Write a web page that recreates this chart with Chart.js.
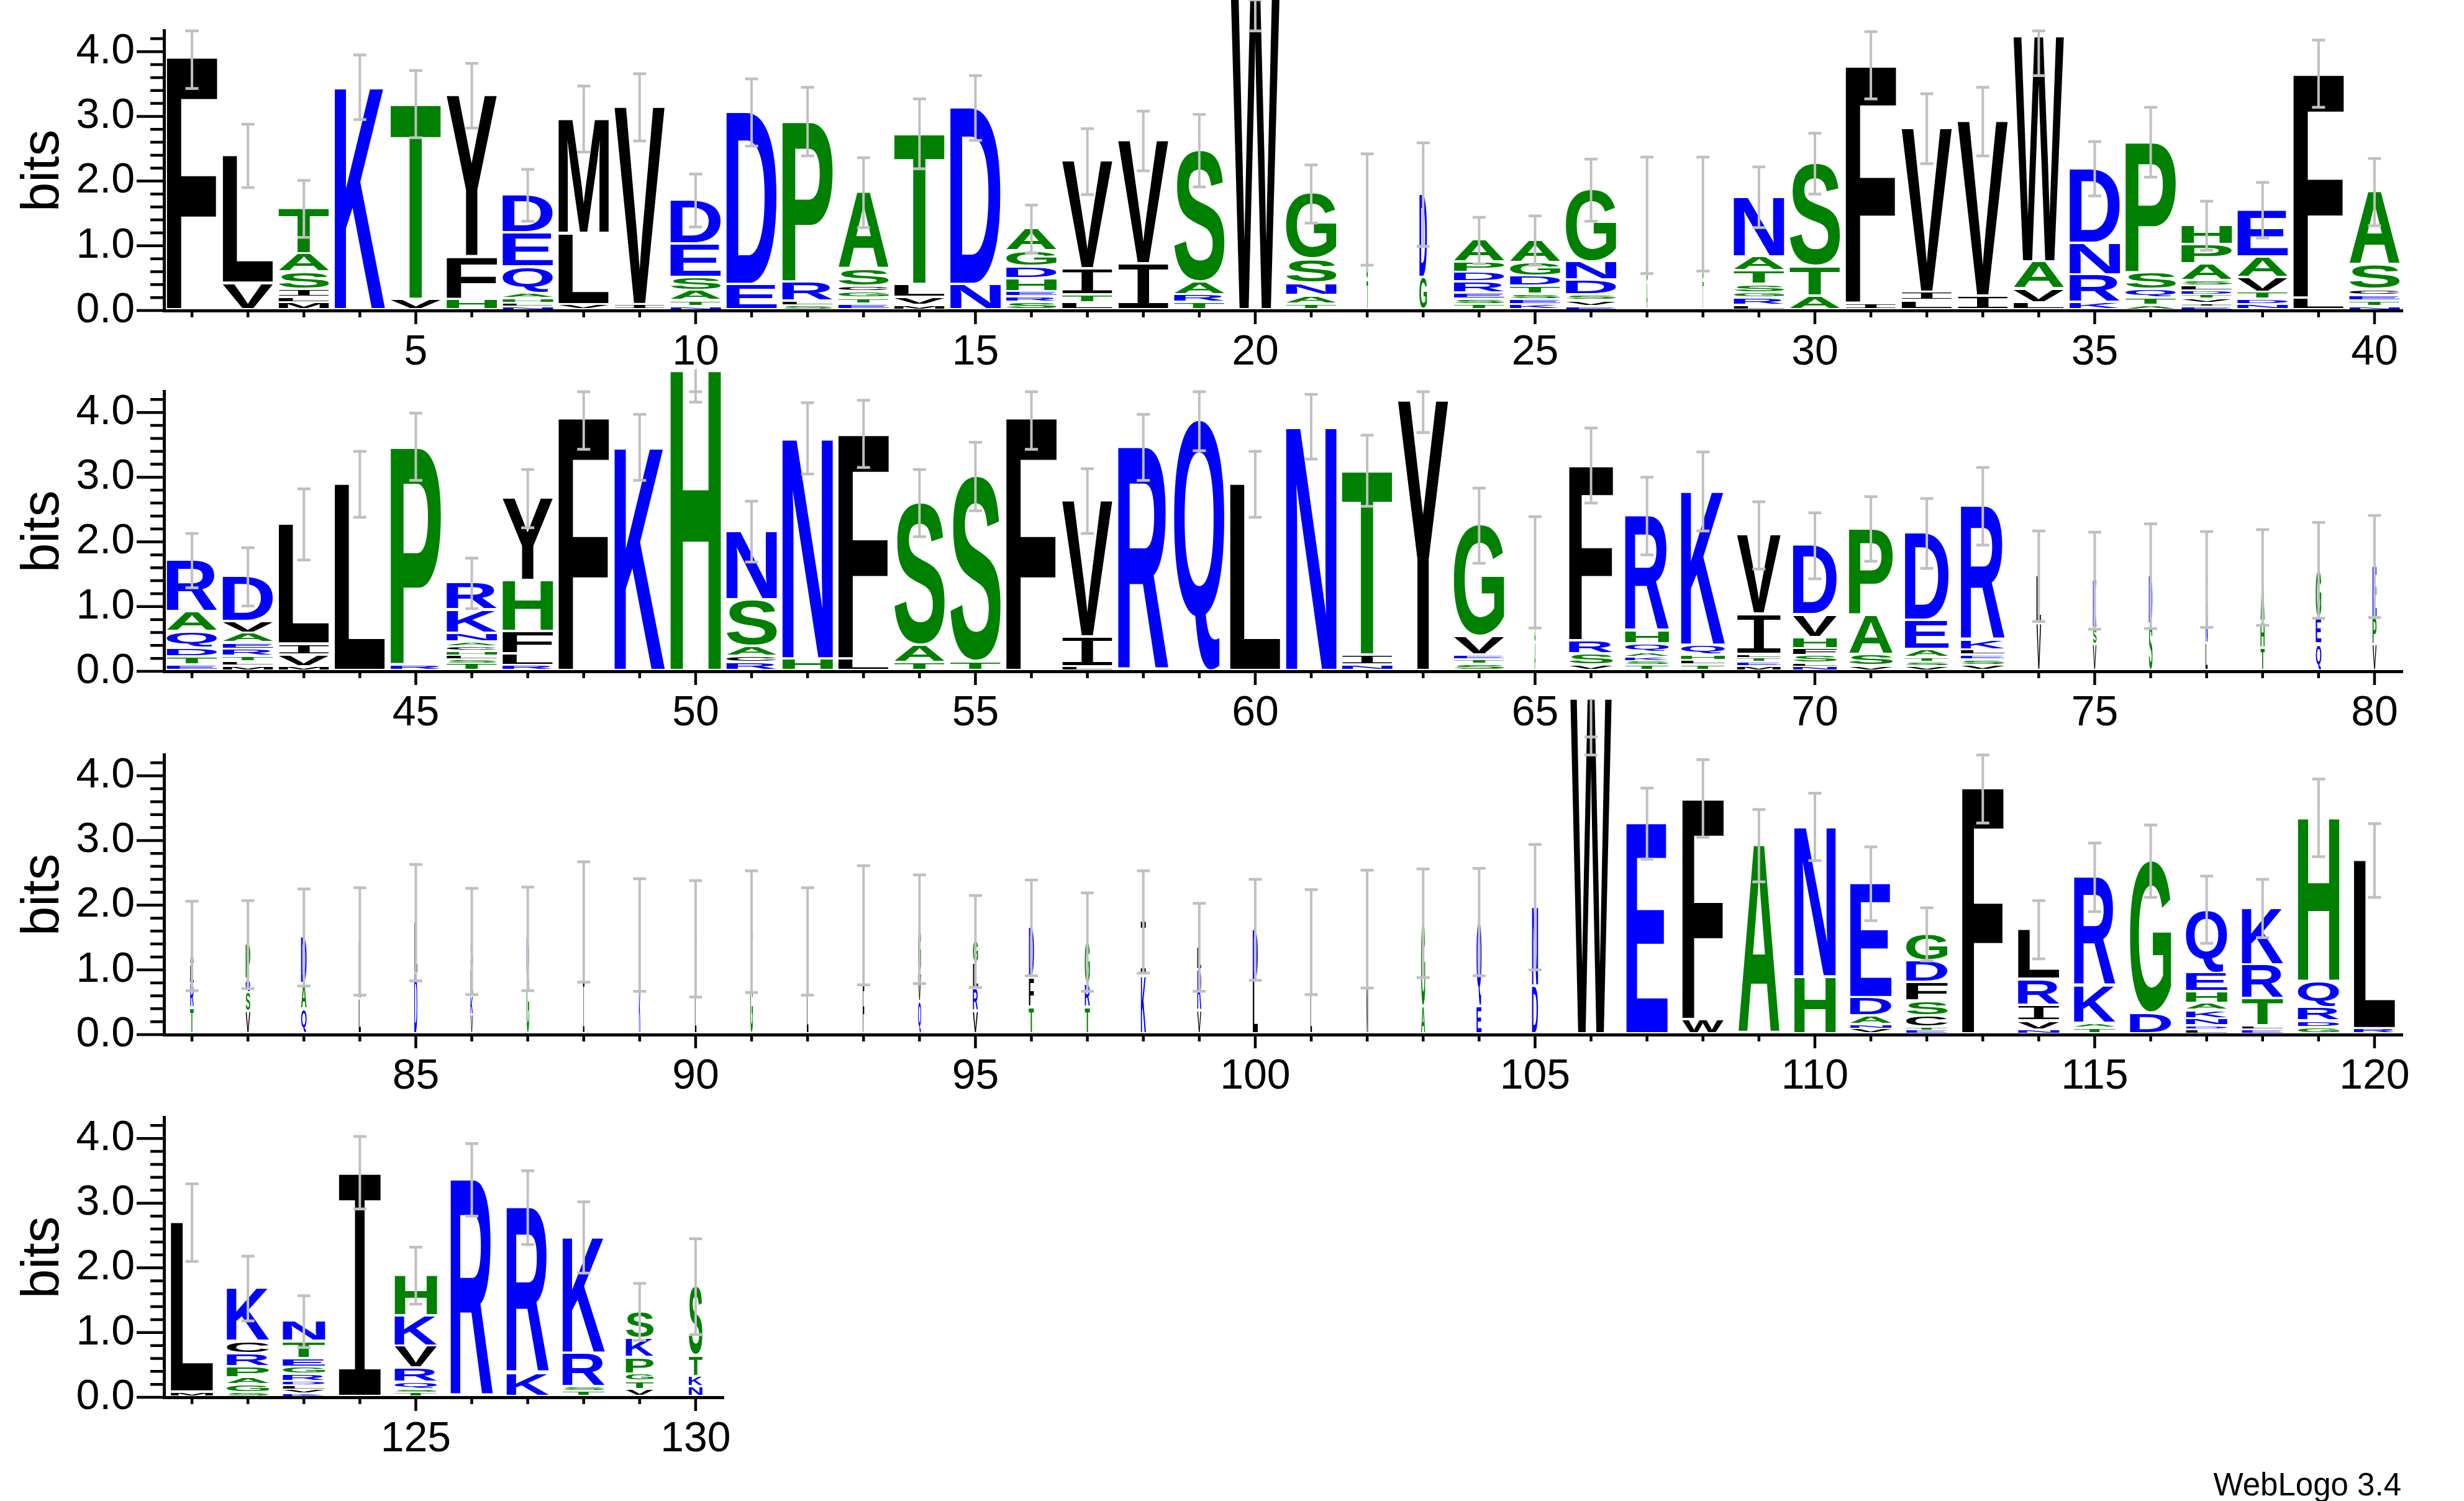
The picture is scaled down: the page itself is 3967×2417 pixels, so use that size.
<!DOCTYPE html>
<html>
<head>
<meta charset="utf-8">
<script src="https://cdn.jsdelivr.net/npm/chart.js@4.4.1/dist/chart.umd.min.js"></script>
<style>
  html, body { margin: 0; padding: 0; background: #fff; }
  #page { position: relative; width: 3967px; height: 2417px; overflow: hidden; background: #fff; }
  #page canvas { position: absolute; left: 0; }
  #credit { position: absolute; right: 101px; top: 2365px; font: 51px/51px "Liberation Sans", Arial, sans-serif; color: #000; white-space: nowrap; }
</style>
</head>
<body>
<div id="page">
  <canvas id="row1"></canvas>
  <canvas id="row2"></canvas>
  <canvas id="row3"></canvas>
  <canvas id="row4"></canvas>
  <div id="credit">WebLogo 3.4</div>
</div>
<script>
// one string per position, letters listed top -> bottom, letter + height in bits
const stacks = [
  "F3.93", "L1.98 V0.41", "T0.71 A0.28 S0.27 I0.12 L0.08 M0.11", "K3.45", "T3.03 V0.16",
  "Y2.5 F0.66 H0.16", "D0.59 E0.53 Q0.4 A0.09 H0.07 L0.05 N0.05", "M1.78 L1.1 V0.08", "V3.06 I0.08", "D0.68 E0.52 S0.2 A0.16 T0.09 N0.05",
  "D2.67 E0.39", "P2.49 R0.3 L0.06 S0.07", "A1.19 S0.27 C0.08 G0.1 T0.09 E0.09", "T2.34 L0.2 V0.12 M0.07", "D2.74 N0.39",
  "A0.35 G0.24 D0.19 H0.2 E0.08 R0.09 S0.11", "V1.67 I0.4 T0.12 L0.11", "V1.91 I0.71", "S2.04 A0.2 R0.12 T0.11", "W5.3",
  "G1.02 S0.37 N0.19 A0.13 T0.09", "S0.6 G0.5 T0.46", "D1.29 G0.5", "A0.34 P0.16 D0.15 R0.17 E0.1 S0.08 T0.08", "A0.35 G0.21 D0.16 T0.12 S0.08 E0.08 K0.08",
  "G1.12 N0.28 D0.23 S0.09 V0.09 E0.05", "G0.55 S0.5 A0.42", "S0.55 G0.5 T0.44", "N0.93 A0.22 T0.21 S0.13 G0.08 R0.11 L0.07", "S1.6 T0.46 A0.21",
  "F3.69 I0.1", "V2.54 I0.13 L0.14", "V2.71 I0.21", "W3.49 A0.42 V0.21 L0.11", "D1.16 N0.49 R0.43 K0.11",
  "P2.03 S0.26 Q0.13 T0.11 A0.07", "H0.3 P0.3 A0.26 S0.08 L0.08 D0.06 T0.06 V0.07 I0.05 E0.05", "E0.73 A0.32 V0.23 T0.11 D0.08 N0.08", "F3.48 L0.18", "A1.14 S0.38 C0.09 E0.09 T0.08 N0.05",
  "R0.8 A0.31 Q0.25 D0.14 T0.12 E0.09", "D0.7 V0.18 A0.15 E0.1 R0.11 T0.08 L0.07 M0.07", "L1.86 I0.17 V0.18 M0.06", "L2.89", "P3.38 R0.09",
  "R0.42 K0.36 N0.14 A0.07 C0.07 H0.07 L0.06 S0.06 T0.11", "Y1.28 H0.79 F0.34 L0.18 R0.08", "F3.93", "K3.46", "H4.67",
  "N1.07 S0.72 A0.15 C0.1 R0.12", "N3.42 H0.18", "F3.49 L0.18", "S2.21 A0.27 T0.12", "S2.87 T0.14",
  "F3.93", "V2.11 I0.46 L0.06", "R3.46", "Q3.9", "L2.89",
  "N3.78", "T2.86 I0.15 N0.09", "Y4.18", "G1.73 V0.28 E0.07 T0.07 S0.1", "G0.6 S0.5 A0.43",
  "F2.72 R0.2 S0.18 V0.08", "R1.79 H0.2 Q0.13 A0.07 K0.06 S0.07 T0.08", "K2.39 Q0.15 H0.08 L0.07 T0.09", "V1.23 I0.62 L0.05 T0.07 E0.06 M0.07", "D1.08 V0.35 H0.17 F0.11 S0.12 L0.05 N0.06",
  "P1.34 A0.61 S0.18 V0.07", "D1.35 E0.45 A0.13 T0.07 S0.06 V0.07", "R2.08 K0.15 L0.08 E0.07 S0.09 V0.08", "L0.75 V0.72", "K0.75 S0.25 V0.4",
  "D0.75 S0.72", "I0.5 N0.5 L0.42", "A0.7 H0.4 T0.35", "G0.75 E0.4 Q0.41", "E0.8 P0.42 V0.4",
  "A0.3 L0.3 R0.37 T0.4", "P0.55 Q0.2 S0.3 V0.34", "D0.72 A0.4 Q0.38", "N0.9 L0.54", "L0.8 D0.93",
  "S0.45 L0.4 K0.3 V0.29", "D0.55 G0.93", "L0.9 I0.84", "E0.8 K0.74", "V0.8 L0.68",
  "T0.8 G0.79", "E0.65 L0.79", "L0.9 F0.79", "G0.7 V0.43 Q0.5", "G0.35 L0.4 R0.34 V0.35",
  "D0.78 F0.46 T0.41", "G0.66 R0.36 T0.41", "I0.85 K0.89", "L0.36 R0.63 V0.36", "D0.8 L0.82",
  "S0.82 L0.61", "L0.9 M0.73", "G1.3 A0.42", "Q1.32 E0.42", "N1.23 D0.74",
  "W5.19", "E3.26", "F3.43 W0.22", "A2.92", "N2.33 H0.88",
  "E1.77 D0.28 A0.14 N0.06 V0.08", "G0.42 D0.33 F0.29 S0.23 C0.18 T0.04 E0.06", "F3.83", "L0.78 R0.4 I0.24 V0.14 N0.06", "R1.69 K0.58 A0.07 T0.09",
  "G2.36 D0.32", "Q0.99 E0.29 H0.18 A0.11 K0.13 N0.11 D0.05 L0.07", "K0.88 R0.53 T0.42 L0.05 E0.07", "H2.54 Q0.4 R0.21 D0.1 G0.1", "L2.61 R0.08",
  "L2.63 M0.07", "K0.83 C0.19 R0.2 P0.17 A0.11 G0.12 S0.06", "N0.32 T0.26 E0.14 G0.11 R0.11 D0.06 L0.06 V0.06 K0.05", "I3.47", "H0.63 K0.47 V0.34 R0.22 Q0.11 S0.05 T0.06",
  "R3.36", "R2.57 K0.36", "K1.8 R0.52 S0.07 T0.08", "S0.42 K0.3 P0.25 G0.11 T0.13 V0.11", "S1.08 T0.32 K0.16 N0.15"
];

// half-width of the error interval (bits)
const errorBars = [
  0.5, 0.49, 0.44, 0.5, 0.52, 0.5, 0.4, 0.51, 0.52, 0.41,
  0.52, 0.53, 0.54, 0.54, 0.5, 0.37, 0.51, 0.46, 0.56, 0.5,
  0.45, 0.86, 0.8, 0.36, 0.38, 0.48, 0.9, 0.88, 0.47, 0.47,
  0.52, 0.54, 0.53, 0.6, 0.42, 0.54, 0.38, 0.43, 0.52, 0.52,
  0.42, 0.45, 0.55, 0.51, 0.52, 0.39, 0.45, 0.5, 0.51, 0.51,
  0.47, 0.55, 0.52, 0.52, 0.53, 0.5, 0.5, 0.51, 0.49, 0.51,
  0.5, 0.55, 0.49, 0.58, 0.86, 0.58, 0.6, 0.61, 0.52, 0.51,
  0.5, 0.54, 0.6, 0.7, 0.75, 0.81, 0.74, 0.74, 0.74, 0.79,
  0.69, 0.68, 0.75, 0.83, 0.9, 0.82, 0.8, 0.93, 0.87, 0.9,
  0.94, 0.83, 0.92, 0.84, 0.71, 0.74, 0.76, 0.79, 0.68, 0.78,
  0.81, 0.91, 0.84, 0.83, 0.97, 0.59, 0.55, 0.6, 0.56, 0.52,
  0.57, 0.41, 0.56, 0.45, 0.53, 0.56, 0.52, 0.45, 0.6, 0.57,
  0.6, 0.5, 0.4, 0.56, 0.44, 0.56, 0.57, 0.55, 0.44, 0.74
];

// fraction of non-gap sequences -> relative stack width
const stackWidths = [
  1, 1, 1, 1, 1, 1, 1, 1, 1, 1,
  1, 1, 1, 1, 1, 1, 1, 1, 1, 1,
  1, 0.03, 0.15, 1, 1, 1, 0.02, 0.02, 1, 1,
  1, 1, 1, 1, 1, 1, 1, 1, 1, 1,
  1, 1, 1, 1, 1, 1, 1, 1, 1, 1,
  1, 1, 1, 1, 1, 1, 1, 1, 1, 1,
  1, 1, 1, 1, 0.02, 0.87, 0.87, 0.87, 0.87, 0.87,
  0.87, 0.87, 0.87, 0.09, 0.07, 0.07, 0.04, 0.08, 0.11, 0.08,
  0.07, 0.09, 0.11, 0.04, 0.06, 0.05, 0.05, 0.03, 0.03, 0.03,
  0.05, 0.03, 0.03, 0.06, 0.1, 0.1, 0.1, 0.1, 0.08, 0.1,
  0.03, 0.03, 0.08, 0.1, 0.12, 0.82, 0.82, 0.82, 0.82, 0.82,
  0.82, 0.82, 0.82, 0.82, 0.82, 0.82, 0.82, 0.82, 0.82, 0.82,
  0.84, 0.84, 0.84, 0.84, 0.84, 0.84, 0.84, 0.84, 0.55, 0.27
];

const rowFirst = [1, 41, 81, 121];
const rowLast = [40, 80, 120, 130];
const xTickLabels = [5, 10, 15, 20, 25, 30, 35, 40, 45, 50, 55, 60, 65, 70, 75, 80, 85, 90, 95, 100, 105, 110, 115, 120, 125, 130];
const yTickLabels = ['0.0', '1.0', '2.0', '3.0', '4.0'];
const yMax = 4.32;
const yMinorStep = 0.2;

// hydrophobicity colour scheme
const hydrophilic = 'RKDENQ', neutral = 'SGHTAP', hydrophobic = 'YVMCLFIW';
function colourOf(aa) {
  if (hydrophilic.includes(aa)) return '#0000ff';
  if (neutral.includes(aa)) return '#008000';
  return '#000000';
}

const columns = stacks.map(s => s.split(' ').map(t => ({ aa: t[0], bits: parseFloat(t.slice(1)) })));
const totals = columns.map(c => c.reduce((a, l) => a + l.bits, 0));

// page geometry
const zeroY = [500, 1081, 1666, 2250];
const PX_PER_BIT = 104.2;
const COL_W = 90.1;
const AXIS_LEFT = 264;
const TOP_ROOM = 560;
const BOTTOM_ROOM = 100;
const PAGE_W = 3967;

Chart.defaults.font.family = '"Liberation Sans", Arial, sans-serif';
Chart.defaults.color = '#000';

const glyphCache = {};
function glyphMetrics(ctx, aa) {
  if (glyphCache[aa]) return glyphCache[aa];
  // the serif I of the original logo font: a mono face gives the bar-and-caps shape
  const font = aa === 'I' ? '200px "Liberation Mono"' : 'bold 200px "Liberation Sans"';
  ctx.save();
  ctx.font = font;
  const m = ctx.measureText(aa);
  ctx.restore();
  glyphCache[aa] = {
    font,
    left: m.actualBoundingBoxLeft,
    w: m.actualBoundingBoxLeft + m.actualBoundingBoxRight,
    asc: m.actualBoundingBoxAscent,
    h: m.actualBoundingBoxAscent + m.actualBoundingBoxDescent
  };
  return glyphCache[aa];
}

function drawGlyph(ctx, aa, x0, x1, yTop, yBot) {
  const g = glyphMetrics(ctx, aa);
  if (yBot - yTop <= 0 || x1 - x0 <= 0) return;
  ctx.save();
  ctx.translate(x0, yTop);
  ctx.scale((x1 - x0) / g.w, (yBot - yTop) / g.h);
  ctx.font = g.font;
  ctx.textAlign = 'left';
  ctx.textBaseline = 'alphabetic';
  ctx.fillStyle = colourOf(aa);
  ctx.fillText(aa, g.left, g.asc);
  ctx.restore();
}

const logoPlugin = {
  id: 'logo',
  afterDatasetsDraw(chart, args, opts) {
    const { ctx } = chart;
    const x = chart.scales.x, y = chart.scales.y;
    for (let p = opts.first; p <= opts.last; p++) {
      const col = columns[p - 1];
      const cx = x.getPixelForValue(p);
      const w = (x.getPixelForValue(p + 0.5) - x.getPixelForValue(p - 0.5)) * 0.9 * stackWidths[p - 1];
      let base = 0;
      for (let i = col.length - 1; i >= 0; i--) {
        const yb = y.getPixelForValue(base);
        const yt = y.getPixelForValue(base + col[i].bits);
        const gap = Math.min(4, (yb - yt) * 0.45);
        drawGlyph(ctx, col[i].aa, cx - w / 2, cx + w / 2, yt, yb - gap);
        base += col[i].bits;
      }
      // error bar
      const tot = totals[p - 1], e = errorBars[p - 1];
      const low = tot - e, high = Math.min(tot + e, yMax);
      const yLo = y.getPixelForValue(Math.min(low, high));
      const yHi = y.getPixelForValue(Math.max(tot, high));
      ctx.save();
      ctx.strokeStyle = '#c0c0c0';
      ctx.lineWidth = 4;
      ctx.beginPath();
      ctx.moveTo(cx, yLo); ctx.lineTo(cx, yHi);
      ctx.stroke();
      ctx.lineWidth = 4.5;
      ctx.beginPath();
      [low, high].forEach(v => {
        const py = y.getPixelForValue(v);
        ctx.moveTo(cx - 10.5, py); ctx.lineTo(cx + 10.5, py);
      });
      ctx.stroke();
      ctx.restore();
    }
  },
  afterDraw(chart) {
    const { ctx } = chart;
    const x = chart.scales.x, y = chart.scales.y;
    const left = chart.chartArea.left, bottom = chart.chartArea.bottom;
    ctx.save();
    ctx.strokeStyle = '#000';
    ctx.lineWidth = 4.5;
    ctx.beginPath();
    y.ticks.forEach(t => {
      const py = y.getPixelForValue(t.value);
      const major = Math.abs(t.value - Math.round(t.value)) < 1e-6;
      ctx.moveTo(left - (major ? 44 : 22), py); ctx.lineTo(left, py);
    });
    x.ticks.forEach(t => {
      const px = x.getPixelForValue(t.value);
      const major = xTickLabels.includes(t.value);
      ctx.moveTo(px, bottom); ctx.lineTo(px, bottom + (major ? 22 : 11));
    });
    ctx.stroke();
    ctx.restore();
  }
};

function makeRow(r) {
  const canvas = document.getElementById('row' + (r + 1));
  const first = rowFirst[r], last = rowLast[r];
  const n = last - first + 1;
  canvas.width = PAGE_W;
  canvas.height = TOP_ROOM + BOTTOM_ROOM;
  canvas.style.top = (zeroY[r] - TOP_ROOM) + 'px';

  const pts = [];
  for (let p = first; p <= last; p++) pts.push({ x: p, y: totals[p - 1] });

  return new Chart(canvas.getContext('2d'), {
    type: 'scatter',
    data: { datasets: [{ data: pts, pointRadius: 0, showLine: false }] },
    options: {
      responsive: false,
      animation: false,
      devicePixelRatio: 1,
      events: [],
      layout: {
        padding: {
          top: TOP_ROOM - yMax * PX_PER_BIT,
          left: 0,
          right: PAGE_W - (AXIS_LEFT + n * COL_W),
          bottom: 0
        }
      },
      plugins: {
        legend: { display: false },
        tooltip: { enabled: false },
        logo: { first, last }
      },
      scales: {
        x: {
          type: 'linear',
          min: first - 0.5,
          max: last + 0.5,
          z: 1,
          afterFit: s => { s.height = BOTTOM_ROOM; },
          afterBuildTicks: s => {
            const t = [];
            for (let p = first; p <= last; p++) t.push({ value: p });
            s.ticks = t;
          },
          grid: { display: false, drawTicks: false },
          border: { display: true, color: '#000', width: 5 },
          ticks: {
            autoSkip: false, maxRotation: 0, minRotation: 0, padding: 27,
            font: { size: 68 }, color: '#000',
            callback: v => xTickLabels.includes(v) ? String(v) : ''
          }
        },
        y: {
          type: 'linear',
          min: 0,
          max: yMax,
          z: 1,
          afterFit: s => { s.width = AXIS_LEFT; },
          afterBuildTicks: s => {
            const t = [];
            for (let k = 0; k * yMinorStep <= yMax - 0.05; k++) t.push({ value: +(k * yMinorStep).toFixed(2) });
            s.ticks = t;
          },
          grid: { display: false, drawTicks: false },
          border: { display: true, color: '#000', width: 5 },
          title: { display: true, text: 'bits', font: { size: 85 }, color: '#000', padding: { top: 20, bottom: 0 } },
          ticks: {
            autoSkip: false, padding: 47,
            font: { size: 68 }, color: '#000',
            callback: v => {
              const k = Math.round(v);
              return Math.abs(v - k) < 1e-6 && yTickLabels[k] !== undefined ? yTickLabels[k] : '';
            }
          }
        }
      }
    },
    plugins: [logoPlugin]
  });
}

[0, 1, 2, 3].forEach(makeRow);
</script>
</body>
</html>
